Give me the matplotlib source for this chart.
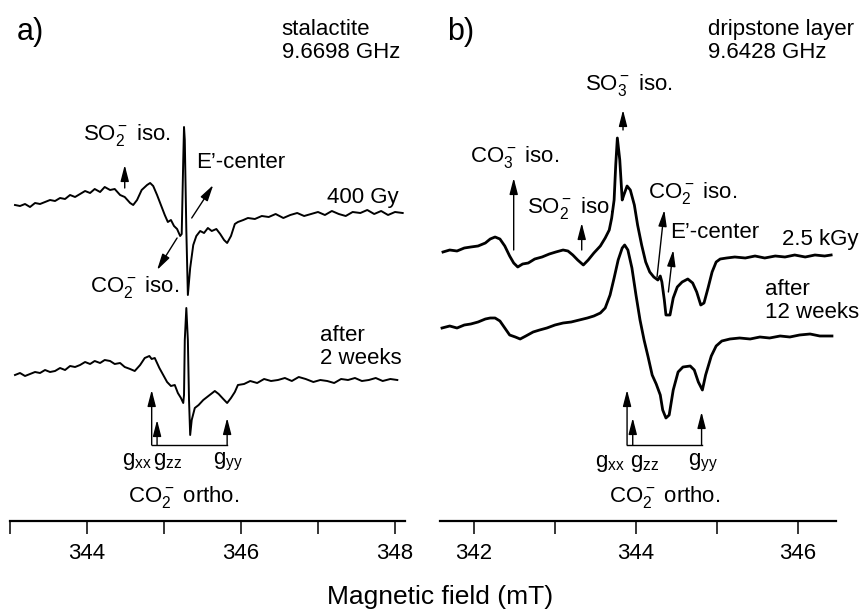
import numpy as np
import matplotlib.pyplot as plt

plt.rcParams['font.family'] = ['Liberation Sans', 'DejaVu Sans']
plt.rcParams['mathtext.fontset'] = 'custom'
plt.rcParams['mathtext.rm'] = 'Liberation Sans'
plt.rcParams['mathtext.it'] = 'Liberation Sans:italic'
plt.rcParams['mathtext.bf'] = 'Liberation Sans:bold'

# ---- a) stalactite, 400 Gy (field in mT, signal in arbitrary units)
field_a1 = [343.065, 343.13, 343.195, 343.26, 343.325, 343.39, 343.455, 343.52, 343.585, 343.65,
            343.715, 343.78, 343.845, 343.91, 343.975, 344.04, 344.10, 344.17, 344.23, 344.30,
            344.36, 344.43, 344.49, 344.56, 344.60, 344.65, 344.71, 344.78, 344.82, 344.86,
            344.91, 344.97, 345.01, 345.05, 345.09, 345.13, 345.17, 345.21, 345.23, 345.25,
            345.26, 345.27, 345.29, 345.31, 345.34, 345.38, 345.42, 345.47, 345.52, 345.57,
            345.62, 345.68, 345.73, 345.78, 345.82, 345.87, 345.92, 345.96, 346.03, 346.09,
            346.18, 346.27, 346.36, 346.45, 346.55, 346.64, 346.73, 346.82, 346.91, 347.00,
            347.09, 347.18, 347.27, 347.36, 347.45, 347.55, 347.64, 347.73, 347.82, 347.91,
            348.00, 348.10]
sig_a1 = [0, -1, 1, -2, 2, 1, 3, 5, 4, 7,
          6, 10, 8, 11, 14, 12, 16, 13, 18, 15,
          16, 10, 8, 2, 0, 5, 15, 20, 22, 19,
          10, -2, -10, -17, -15, -21, -24, -31, -29, 45,
          78, 65, -25, -90, -63, -40, -31, -26, -28, -23,
          -26, -24, -29, -35, -38, -31, -19, -17, -15, -13,
          -14, -11, -12, -9, -13, -10, -8, -11, -9, -7,
          -10, -6, -9, -11, -7, -8, -5, -9, -6, -10,
          -7, -8]

# ---- a) stalactite, after 2 weeks
field_a2 = [343.065, 343.13, 343.195, 343.26, 343.325, 343.39, 343.455, 343.52, 343.585, 343.65,
            343.715, 343.78, 343.845, 343.91, 343.975, 344.04, 344.10, 344.17, 344.23, 344.30,
            344.36, 344.43, 344.49, 344.56, 344.62, 344.69, 344.75, 344.81, 344.84, 344.88,
            344.94, 344.99, 345.04, 345.09, 345.14, 345.18, 345.22, 345.25, 345.26, 345.27,
            345.29, 345.31, 345.325, 345.34, 345.36, 345.40, 345.45, 345.51, 345.56, 345.61,
            345.66, 345.71, 345.77, 345.82, 345.87, 345.92, 345.96, 346.04, 346.12, 346.21,
            346.30, 346.39, 346.48, 346.57, 346.66, 346.75, 346.84, 346.94, 347.03, 347.12,
            347.21, 347.30, 347.39, 347.48, 347.57, 347.66, 347.75, 347.84, 347.94, 348.03]
sig_a2 = [0, 2, -1, 1, 3, 2, 5, 3, 4, 7,
          5, 9, 8, 10, 13, 11, 14, 12, 15, 14,
          11, 12, 8, 6, 4, 10, 17, 19, 16, 17,
          7, 0, -7, -11, -10, -18, -23, -28, -20, 35,
          67, 35, -25, -60, -45, -33, -30, -25, -22, -19,
          -16, -19, -24, -28, -23, -17, -10, -9, -6, -8,
          -4, -6, -5, -3, -6, -2, -4, -7, -5, -6,
          -8, -4, -5, -3, -6, -5, -3, -6, -4, -5]

# ---- b) dripstone layer, 2.5 kGy
field_b1 = [341.617, 341.70, 341.79, 341.88, 341.96, 342.05, 342.14, 342.20, 342.26, 342.32,
            342.38, 342.44, 342.49, 342.54, 342.60, 342.67, 342.75, 342.84, 342.93, 343.01,
            343.10, 343.16, 343.22, 343.28, 343.35, 343.41, 343.48, 343.56, 343.62, 343.67,
            343.70, 343.73, 343.75, 343.77, 343.80, 343.83, 343.85, 343.89, 343.93, 343.98,
            344.02, 344.07, 344.12, 344.17, 344.22, 344.27, 344.30, 344.32, 344.35, 344.37,
            344.42, 344.46, 344.51, 344.57, 344.64, 344.70, 344.75, 344.80, 344.84, 344.89,
            344.94, 344.99, 345.04, 345.12, 345.22, 345.35, 345.47, 345.59, 345.72, 345.84,
            345.96, 346.09, 346.21, 346.33, 346.41]
sig_b1 = [0, 2, 1, 4, 5, 6, 9, 13, 15, 13,
          6, -4, -11, -15, -12, -11, -7, -5, -2, 0,
          2, 1, -3, -8, -13, -8, -1, 6, 14, 22,
          34, 52, 87, 114, 92, 52, 57, 66, 62, 47,
          27, 7, -10, -20, -25, -28, -24, -30, -48, -63,
          -63, -46, -35, -30, -27, -31, -40, -53, -51, -36,
          -20, -10, -7, -6, -5, -6, -4, -6, -4, -5,
          -3, -5, -3, -4, -3]

# ---- b) dripstone layer, after 12 weeks
field_b2 = [341.605, 341.70, 341.79, 341.88, 341.96, 342.05, 342.14, 342.20, 342.26, 342.32,
            342.38, 342.44, 342.51, 342.57, 342.64, 342.73, 342.81, 342.90, 343.00, 343.10,
            343.20, 343.30, 343.40, 343.48, 343.56, 343.62, 343.68, 343.73, 343.78, 343.83,
            343.86, 343.90, 343.95, 344.00, 344.05, 344.10, 344.15, 344.20, 344.25, 344.30,
            344.33, 344.37, 344.41, 344.46, 344.52, 344.58, 344.67, 344.72, 344.77, 344.82,
            344.86, 344.93, 344.99, 345.06, 345.16, 345.28, 345.41, 345.53, 345.65, 345.78,
            345.90, 346.02, 346.15, 346.27, 346.42]
sig_b2 = [0, 2, 0, 3, 4, 6, 9, 10, 10, 7,
          0, -7, -9, -11, -8, -4, -2, 0, 3, 5,
          6, 8, 10, 12, 15, 20, 33, 50, 68, 80,
          83, 78, 60, 33, 8, -12, -29, -47, -56, -67,
          -82, -90, -87, -62, -44, -39, -38, -42, -54, -62,
          -47, -28, -18, -13, -11, -10, -11, -9, -10, -8,
          -9, -7, -6, -8, -8]

# vertical offsets of the stacked spectra
offset_a = [316, 146]
offset_b = [269, 193]

# CO2- orthorhombic g positions (mT)
g_a = [344.84, 344.91, 345.82]
g_b = [343.89, 343.96, 344.81]

W, H = 865, 610
fig = plt.figure(figsize=(W / 100, H / 100), dpi=100)
ax_a = fig.add_axes([10 / W, 89 / H, 395 / W, 521 / H])
ax_b = fig.add_axes([440 / W, 89 / H, 396 / W, 521 / H])

arrow = dict(arrowstyle='-|>,head_length=0.7,head_width=0.18', color='k', lw=1.0,
             shrinkA=0, shrinkB=0, mutation_scale=14)
fs = 16


def setup(ax, lo, hi, ticks, labels):
    ax.set_xlim(lo, hi)
    ax.set_ylim(0, 521)
    for s in ['left', 'right', 'top']:
        ax.spines[s].set_visible(False)
    ax.spines['bottom'].set_linewidth(1.6)
    ax.set_yticks([])
    ax.set_xticks(ticks)
    ax.set_xticklabels(labels)
    ax.tick_params(axis='x', direction='out', length=9.5, width=1.1, pad=6, labelsize=fs)
    ax.patch.set_alpha(0)


def g_marks(ax, g, heights):
    for x, h in zip(g, heights):
        ax.annotate('', xy=(x, 76 + h), xytext=(x, 76), arrowprops=arrow)
    ax.plot([g[0], g[2]], [76, 76], color='k', lw=1.0)


# ---- panel a
setup(ax_a, 343, 348.13, [343, 344, 345, 346, 347, 348], ['', '344', '', '346', '', '348'])
ax_a.plot(field_a1, np.array(sig_a1) + offset_a[0], color='k', lw=1.4)
ax_a.plot(field_a2, np.array(sig_a2) + offset_a[1], color='k', lw=1.4)

ax_a.text(343.09, 489, 'a)', fontsize=22, va='center')
ax_a.text(346.53, 480, 'stalactite\n9.6698 GHz', fontsize=fs, va='center', linespacing=1.15)
ax_a.text(343.95, 386, r'SO$_2^-$ iso.', fontsize=fs, va='center')
ax_a.annotate('', xy=(344.49, 356), xytext=(344.49, 333), arrowprops=arrow)
ax_a.text(345.42, 358, 'E’-center', fontsize=fs, va='center')
ax_a.annotate('', xy=(345.64, 336), xytext=(345.36, 303), arrowprops=arrow)
ax_a.text(344.04, 234, r'CO$_2^-$ iso.', fontsize=fs, va='center')
ax_a.annotate('', xy=(344.91, 251), xytext=(345.17, 283), arrowprops=arrow)
ax_a.text(347.12, 324, '400 Gy', fontsize=fs, va='center')
ax_a.text(347.03, 174, 'after\n2 weeks', fontsize=fs, va='center', linespacing=1.15)

g_marks(ax_a, g_a, [55, 25, 27])
ax_a.text(344.65, 59, r'g$_{\mathrm{xx}}$', fontsize=fs, ha='center', va='center')
ax_a.text(345.05, 59, r'g$_{\mathrm{zz}}$', fontsize=fs, ha='center', va='center')
ax_a.text(345.83, 59, r'g$_{\mathrm{yy}}$', fontsize=fs, ha='center', va='center')
ax_a.text(345.25, 24, r'CO$_2^-$ ortho.', fontsize=fs, ha='center', va='center')

# ---- panel b
setup(ax_b, 341.58, 346.47, [342, 343, 344, 345, 346], ['342', '', '344', '', '346'])
ax_b.plot(field_b1, np.array(sig_b1) + offset_b[0], color='k', lw=2.0)
ax_b.plot(field_b2, np.array(sig_b2) + offset_b[1], color='k', lw=2.0)

ax_b.text(341.67, 489, 'b)', fontsize=22, va='center')
ax_b.text(344.89, 480, 'dripstone layer\n9.6428 GHz', fontsize=fs, va='center', linespacing=1.15)
ax_b.text(343.37, 436, r'SO$_3^-$ iso.', fontsize=fs, va='center')
ax_b.annotate('', xy=(343.84, 411), xytext=(343.84, 391), arrowprops=arrow)
ax_b.text(341.95, 364, r'CO$_3^-$ iso.', fontsize=fs, va='center')
ax_b.annotate('', xy=(342.49, 343), xytext=(342.49, 271), arrowprops=arrow)
ax_b.text(342.65, 313, r'SO$_2^-$ iso.', fontsize=fs, va='center')
ax_b.annotate('', xy=(343.33, 298), xytext=(343.33, 271), arrowprops=arrow)
ax_b.text(344.15, 328, r'CO$_2^-$ iso.', fontsize=fs, va='center')
ax_b.annotate('', xy=(344.35, 311), xytext=(344.26, 244), arrowprops=arrow)
ax_b.text(344.42, 288, 'E’-center', fontsize=fs, va='center')
ax_b.annotate('', xy=(344.46, 271), xytext=(344.40, 229), arrowprops=arrow)
ax_b.text(345.80, 281, '2.5 kGy', fontsize=fs, va='center')
ax_b.text(345.59, 220, 'after\n12 weeks', fontsize=fs, va='center', linespacing=1.15)

g_marks(ax_b, g_b, [55, 27, 33])
ax_b.text(343.68, 58, r'g$_{\mathrm{xx}}$', fontsize=fs, ha='center', va='center')
ax_b.text(344.11, 58, r'g$_{\mathrm{zz}}$', fontsize=fs, ha='center', va='center')
ax_b.text(344.83, 58, r'g$_{\mathrm{yy}}$', fontsize=fs, ha='center', va='center')
ax_b.text(344.36, 24, r'CO$_2^-$ ortho.', fontsize=fs, ha='center', va='center')

fig.text(440 / W, 1 - 597 / H, 'Magnetic field (mT)', fontsize=19, ha='center', va='center')

fig.savefig('out.png', dpi=100)
